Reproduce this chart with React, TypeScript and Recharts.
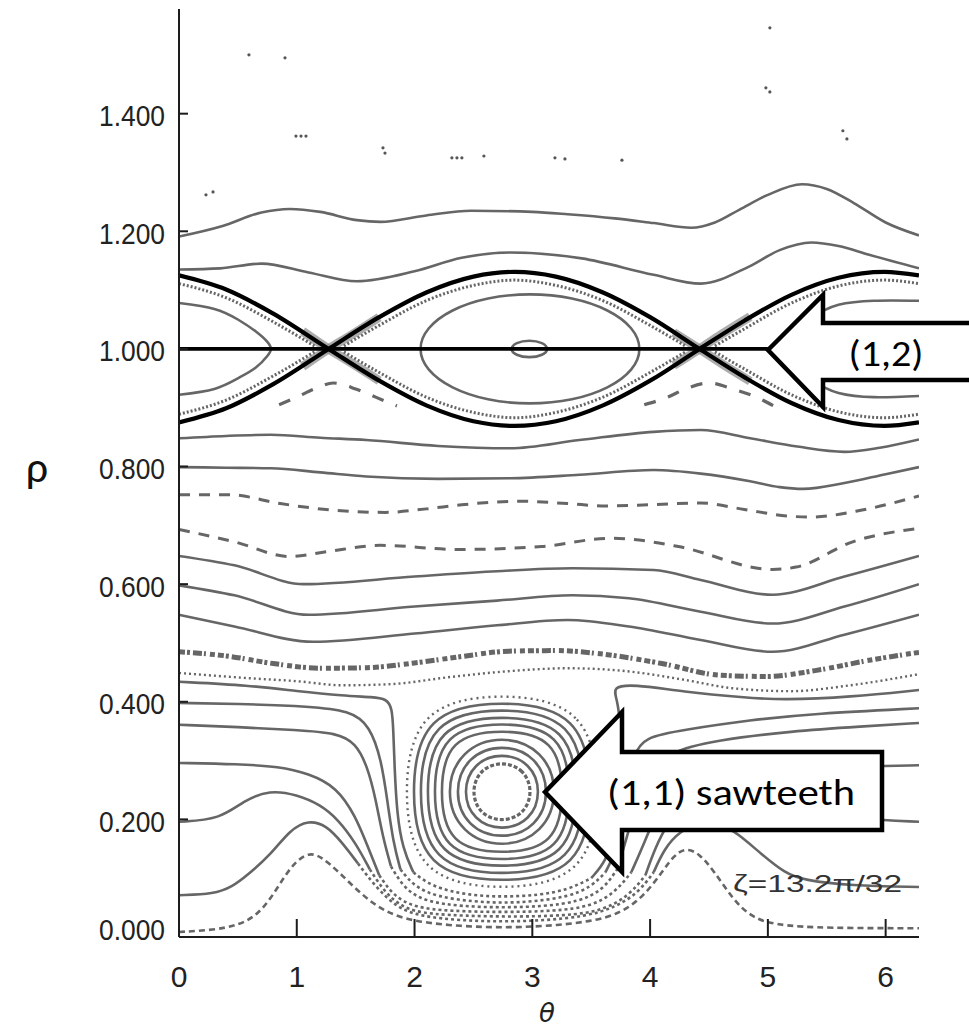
import React from 'react';
import { ComposedChart, Line, Scatter, XAxis, YAxis } from 'recharts';

type Pt = { x: number; y: number };
const toPts = (rows: number[][]): Pt[] => rows.map(([x, y]) => ({ x, y }));

const TWO_PI = 6.2832;
const RHO_MAX = 1.578;

const thetaTicks = [0, 1, 2, 3, 4, 5, 6];
const rhoTicks = [0, 0.2, 0.4, 0.6, 0.8, 1.0, 1.2, 1.4];
const rhoLabels = ['0.000', '0.200', '0.400', '0.600', '0.800', '1.000', '1.200', '1.400'];

// scattered puncture points in the outer region
const strayDots = toPts([
  [0.594, 1.5], [0.9, 1.495], [0.993, 1.362], [1.036, 1.362], [1.078, 1.362],
  [1.732, 1.342], [1.749, 1.333], [2.317, 1.325], [2.36, 1.325], [2.402, 1.325],
  [2.589, 1.328], [3.192, 1.325], [3.277, 1.323], [3.761, 1.321], [4.983, 1.444],
  [5.017, 1.437], [5.637, 1.371], [5.671, 1.357], [5.017, 1.546], [0.229, 1.262], [0.289, 1.267],
]);

// outer flux surfaces
const topA = toPts([
  [0, 1.191], [0.37, 1.209], [0.7, 1.232], [0.94, 1.238], [1.2, 1.233], [1.51, 1.219], [1.71, 1.216],
  [2.1, 1.227], [2.48, 1.235], [3.0, 1.233], [3.3, 1.229], [3.7, 1.222], [4.03, 1.214], [4.35, 1.206],
  [4.55, 1.215], [4.76, 1.237], [5.0, 1.262], [5.29, 1.28], [5.5, 1.272], [5.73, 1.248], [6.0, 1.215], [6.283, 1.193],
]);
const topB = toPts([
  [0, 1.135], [0.35, 1.137], [0.7, 1.145], [1.1, 1.13], [1.51, 1.115], [2.0, 1.132], [2.4, 1.155],
  [2.81, 1.164], [3.42, 1.154], [4.03, 1.126], [4.43, 1.111], [4.84, 1.14], [5.1, 1.168], [5.37, 1.181],
  [5.6, 1.175], [5.86, 1.16], [6.283, 1.137],
]);

// (1,2) separatrices
const sepA = toPts([
  [0, 1.125], [0.4, 1.101], [0.8, 1.06], [1.27, 1.0], [1.7, 0.946], [2.1, 0.904], [2.5, 0.877], [2.85, 0.869],
  [3.2, 0.877], [3.6, 0.904], [4.0, 0.946], [4.42, 1.0], [4.8, 1.048], [5.2, 1.092], [5.6, 1.121], [5.99, 1.131], [6.283, 1.125],
]);
const sepB = toPts([
  [0, 0.875], [0.4, 0.899], [0.8, 0.94], [1.27, 1.0], [1.7, 1.054], [2.1, 1.096], [2.5, 1.123], [2.85, 1.131],
  [3.2, 1.123], [3.6, 1.096], [4.0, 1.054], [4.42, 1.0], [4.8, 0.952], [5.2, 0.908], [5.6, 0.879], [5.99, 0.869], [6.283, 0.875],
]);
const rhoOne = toPts([[0, 1.0], [5.0, 1.0]]);

// (1,2) island contents
const leftIsland = toPts([
  [0, 1.078], [0.3, 1.068], [0.5, 1.05], [0.65, 1.03], [0.75, 1.012], [0.78, 1.0],
  [0.75, 0.988], [0.65, 0.968], [0.5, 0.95], [0.3, 0.932], [0, 0.922],
]);
const rightIsland = toPts([
  [6.283, 1.082], [5.9, 1.082], [5.6, 1.075], [5.4, 1.055], [5.25, 1.025], [5.19, 1.0],
  [5.25, 0.975], [5.4, 0.945], [5.6, 0.925], [5.9, 0.918], [6.283, 0.92],
]);
const midIsland = toPts([
  [3.933, 1.0], [3.861, 1.036], [3.654, 1.067], [3.345, 1.088], [2.98, 1.095], [2.615, 1.088], [2.306, 1.067], [2.099, 1.036],
  [2.027, 1.0], [2.099, 0.964], [2.306, 0.933], [2.615, 0.912], [2.98, 0.905], [3.345, 0.912], [3.654, 0.933], [3.861, 0.964],
]);
const midCore = toPts([
  [3.141, 1.0], [3.093, 1.011], [2.975, 1.0155], [2.857, 1.011], [2.809, 1.0], [2.857, 0.989], [2.975, 0.9845], [3.093, 0.989],
]);
const layerMidTop = toPts([[1.4, 1.005], [1.7, 1.04], [2.1, 1.082], [2.5, 1.108], [2.85, 1.117], [3.2, 1.108], [3.6, 1.082], [4.0, 1.04], [4.3, 1.005]]);
const layerMidBot = toPts([[1.4, 0.995], [1.7, 0.96], [2.1, 0.918], [2.5, 0.892], [2.85, 0.883], [3.2, 0.892], [3.6, 0.918], [4.0, 0.96], [4.3, 0.995]]);
const layerLeftTop = toPts([[0, 1.111], [0.4, 1.087], [0.8, 1.046], [1.15, 1.005]]);
const layerLeftBot = toPts([[0, 0.889], [0.4, 0.913], [0.8, 0.954], [1.15, 0.995]]);
const layerRightTop = toPts([[4.55, 1.005], [4.8, 1.034], [5.2, 1.078], [5.6, 1.107], [5.99, 1.117], [6.283, 1.111]]);
const layerRightBot = toPts([[4.55, 0.995], [4.8, 0.966], [5.2, 0.922], [5.6, 0.893], [5.99, 0.883], [6.283, 0.889]]);
const xBlobA = toPts([[1.05, 1.03], [1.27, 1.0], [1.45, 0.978], [1.7, 0.946]]);
const xBlobB = toPts([[1.05, 0.97], [1.27, 1.0], [1.45, 1.022], [1.7, 1.054]]);
const xBlobC = toPts([[4.2, 0.972], [4.42, 1.0], [4.6, 1.024], [4.85, 1.055]]);
const xBlobD = toPts([[4.2, 1.028], [4.42, 1.0], [4.6, 0.976], [4.85, 0.945]]);
const chainLeft = toPts([[0.85, 0.905], [1.0, 0.918], [1.15, 0.932], [1.31, 0.942], [1.5, 0.932], [1.67, 0.918], [1.85, 0.903]]);
const chainRight = toPts([[3.95, 0.905], [4.15, 0.918], [4.3, 0.932], [4.5, 0.942], [4.7, 0.932], [4.9, 0.918], [5.05, 0.903]]);

// middle surfaces
const surfD1 = toPts([
  [0, 0.848], [0.4, 0.852], [0.78, 0.854], [1.2, 0.849], [1.59, 0.845], [2.2, 0.835], [2.81, 0.831], [3.4, 0.845],
  [4.03, 0.859], [4.43, 0.862], [4.85, 0.848], [5.25, 0.834], [5.65, 0.825], [5.95, 0.832], [6.283, 0.846],
]);
const surfD2 = toPts([
  [0, 0.799], [0.4, 0.798], [0.78, 0.797], [1.2, 0.79], [1.59, 0.783], [2.2, 0.779], [2.81, 0.78], [3.4, 0.786],
  [4.03, 0.794], [4.43, 0.788], [4.85, 0.775], [5.1, 0.765], [5.3, 0.762], [5.65, 0.772], [6.0, 0.787], [6.283, 0.799],
]);
const surfE1 = toPts([
  [0, 0.752], [0.43, 0.752], [0.86, 0.737], [1.3, 0.726], [1.75, 0.722], [2.1, 0.728], [2.4, 0.735], [2.89, 0.741],
  [3.3, 0.737], [3.62, 0.733], [4.0, 0.735], [4.43, 0.738], [4.8, 0.727], [5.16, 0.716], [5.36, 0.714], [5.8, 0.726], [6.283, 0.75],
]);
const surfE2 = toPts([
  [0, 0.693], [0.47, 0.672], [0.94, 0.647], [1.25, 0.655], [1.71, 0.666], [2.37, 0.659], [3.08, 0.664], [3.66, 0.678],
  [3.85, 0.676], [4.24, 0.664], [5.04, 0.625], [5.24, 0.629], [5.72, 0.672], [6.283, 0.695],
]);
const surfF1 = toPts([
  [0, 0.648], [0.47, 0.632], [1.06, 0.6], [2.0, 0.613], [2.7, 0.622], [3.34, 0.627], [4.03, 0.624], [4.43, 0.607],
  [5.04, 0.582], [5.65, 0.613], [6.283, 0.648],
]);
const surfF2 = toPts([
  [0, 0.598], [0.47, 0.581], [1.1, 0.548], [2.0, 0.562], [2.7, 0.572], [3.34, 0.581], [3.82, 0.576], [4.43, 0.553],
  [5.04, 0.533], [5.65, 0.562], [6.283, 0.6],
]);
const surfF3 = toPts([
  [0, 0.548], [0.47, 0.528], [1.14, 0.502], [2.0, 0.516], [2.7, 0.53], [3.3, 0.539], [3.82, 0.528], [4.43, 0.505],
  [5.04, 0.485], [5.65, 0.514], [6.283, 0.548],
]);
const chaosBand = toPts([
  [0, 0.485], [0.4, 0.478], [0.8, 0.465], [1.2, 0.457], [1.6, 0.458], [2.0, 0.466], [2.4, 0.477], [2.8, 0.486],
  [3.2, 0.487], [3.6, 0.481], [4.1, 0.465], [4.6, 0.445], [5.0, 0.443], [5.4, 0.453], [5.9, 0.472], [6.283, 0.484],
]);
const chaosInner = toPts([
  [0, 0.449], [0.6, 0.44], [1.0, 0.435], [1.39, 0.428], [1.8, 0.43], [2.3, 0.442], [2.8, 0.452], [3.3, 0.457],
  [3.8, 0.452], [4.3, 0.437], [4.7, 0.423], [5.2, 0.418], [5.7, 0.428], [6.283, 0.447],
]);

// surfaces wrapping round the (1,1) island
const wrap0 = toPts([
  [0, 0.434], [0.6, 0.428], [1.0, 0.418], [1.4, 0.41], [1.65, 0.408], [1.76, 0.405], [1.81, 0.39], [1.82, 0.35],
  [1.83, 0.29], [1.85, 0.21], [1.9, 0.15], [1.99, 0.11], [2.15, 0.085], [2.45, 0.071], [2.75, 0.068], [3.05, 0.071],
  [3.3, 0.08], [3.5, 0.1], [3.63, 0.13], [3.68, 0.17], [3.72, 0.24], [3.75, 0.31], [3.75, 0.36], [3.72, 0.405],
  [3.68, 0.425], [3.85, 0.43], [4.28, 0.417], [4.8, 0.407], [5.13, 0.403], [5.7, 0.408], [6.283, 0.42],
]);
const wrap1 = toPts([
  [0, 0.398], [0.6, 0.396], [1.1, 0.392], [1.45, 0.385], [1.62, 0.36], [1.72, 0.3], [1.77, 0.23], [1.82, 0.16],
  [1.88, 0.115], [2.0, 0.085], [2.2, 0.068], [2.5, 0.06], [2.75, 0.058], [3.0, 0.06], [3.3, 0.068], [3.5, 0.085],
  [3.62, 0.11], [3.7, 0.14], [3.76, 0.19], [3.81, 0.26], [3.86, 0.31], [3.95, 0.34], [4.28, 0.352], [4.85, 0.369],
  [5.4, 0.38], [6.283, 0.389],
]);
const wrap2 = toPts([
  [0, 0.361], [0.5, 0.357], [1.0, 0.352], [1.34, 0.347], [1.5, 0.33], [1.6, 0.29], [1.67, 0.235], [1.73, 0.17],
  [1.8, 0.12], [1.92, 0.08], [2.1, 0.06], [2.4, 0.052], [2.75, 0.05], [3.1, 0.052], [3.4, 0.06], [3.6, 0.08],
  [3.72, 0.115], [3.79, 0.16], [3.87, 0.22], [3.96, 0.27], [4.14, 0.315], [4.57, 0.335], [5.2, 0.35], [5.8, 0.358], [6.283, 0.364],
]);
const wrap3 = toPts([
  [0, 0.296], [0.5, 0.294], [0.85, 0.29], [1.1, 0.278], [1.34, 0.255], [1.5, 0.205], [1.6, 0.155], [1.7, 0.105],
  [1.82, 0.07], [2.0, 0.05], [2.3, 0.044], [2.75, 0.042], [3.2, 0.044], [3.5, 0.052], [3.7, 0.075], [3.84, 0.11],
  [3.93, 0.15], [4.03, 0.2], [4.15, 0.245], [4.35, 0.27], [4.6, 0.278], [5.2, 0.287], [5.8, 0.29], [6.283, 0.292],
]);
const wrap4 = toPts([
  [0, 0.196], [0.35, 0.2], [0.55, 0.232], [0.77, 0.25], [1.0, 0.242], [1.2, 0.225], [1.35, 0.2], [1.5, 0.16],
  [1.62, 0.115], [1.75, 0.075], [1.9, 0.05], [2.1, 0.038], [2.75, 0.034], [3.3, 0.036], [3.6, 0.045], [3.82, 0.07],
  [3.96, 0.105], [4.04, 0.15], [4.15, 0.195], [4.3, 0.225], [4.5, 0.235], [4.8, 0.232], [5.3, 0.215], [5.8, 0.2], [6.283, 0.196],
]);
const wrap5 = toPts([
  [0, 0.071], [0.3, 0.073], [0.45, 0.085], [0.58, 0.105], [0.78, 0.14], [0.94, 0.182], [1.1, 0.199], [1.25, 0.19],
  [1.38, 0.162], [1.52, 0.125], [1.67, 0.085], [1.85, 0.05], [2.05, 0.035], [2.4, 0.028], [2.75, 0.026], [3.1, 0.028],
  [3.45, 0.035], [3.7, 0.05], [3.9, 0.075], [4.03, 0.11], [4.12, 0.15], [4.25, 0.18], [4.45, 0.198], [4.6, 0.192],
  [4.74, 0.177], [4.95, 0.14], [5.15, 0.108], [5.3, 0.097], [5.7, 0.087], [6.283, 0.085],
]);
const wrap6 = toPts([
  [0, 0.0085], [0.3, 0.012], [0.5, 0.02], [0.65, 0.035], [0.78, 0.065], [0.9, 0.105], [1.0, 0.13], [1.1, 0.143],
  [1.2, 0.138], [1.35, 0.112], [1.55, 0.072], [1.75, 0.042], [2.0, 0.026], [2.4, 0.018], [2.75, 0.016], [3.1, 0.018],
  [3.5, 0.026], [3.75, 0.04], [3.95, 0.07], [4.1, 0.11], [4.2, 0.138], [4.3, 0.152], [4.42, 0.142], [4.55, 0.11],
  [4.7, 0.065], [4.85, 0.035], [5.05, 0.02], [5.5, 0.015], [6.283, 0.015],
]);

// (1,1) island rings
const ring1 = toPts([[3.004, 0.247], [2.932, 0.285], [2.742, 0.299], [2.552, 0.285], [2.481, 0.247], [2.552, 0.209], [2.742, 0.195], [2.932, 0.209]]);
const ring2 = toPts([[3.078, 0.247], [2.986, 0.296], [2.742, 0.314], [2.498, 0.296], [2.406, 0.247], [2.498, 0.198], [2.742, 0.18], [2.986, 0.198]]);
const ring3 = toPts([[3.153, 0.247], [3.041, 0.307], [2.742, 0.329], [2.443, 0.307], [2.331, 0.247], [2.443, 0.187], [2.742, 0.165], [3.041, 0.187]]);
const ring4 = toPts([[3.228, 0.247], [3.095, 0.318], [2.742, 0.344], [2.389, 0.318], [2.256, 0.247], [2.389, 0.176], [2.742, 0.15], [3.095, 0.176]]);
const ring5 = toPts([[3.277, 0.247], [3.2, 0.339], [2.742, 0.354], [2.284, 0.339], [2.207, 0.247], [2.284, 0.155], [2.742, 0.14], [3.2, 0.155]]);
const ring6 = toPts([[3.339, 0.247], [3.254, 0.35], [2.742, 0.367], [2.23, 0.35], [2.145, 0.247], [2.23, 0.144], [2.742, 0.127], [3.254, 0.144]]);
const ring7 = toPts([[3.402, 0.247], [3.307, 0.36], [2.742, 0.379], [2.177, 0.36], [2.082, 0.247], [2.177, 0.134], [2.742, 0.115], [3.307, 0.134]]);
const ring8 = toPts([[3.464, 0.247], [3.361, 0.371], [2.742, 0.392], [2.123, 0.371], [2.02, 0.247], [2.123, 0.123], [2.742, 0.102], [3.361, 0.123]]);
const ring9 = toPts([[3.526, 0.247], [3.414, 0.382], [2.742, 0.404], [2.07, 0.382], [1.958, 0.247], [2.07, 0.112], [2.742, 0.09], [3.414, 0.112]]);
const ring10 = toPts([[3.589, 0.247], [3.468, 0.392], [2.742, 0.417], [2.016, 0.392], [1.895, 0.247], [2.016, 0.102], [2.742, 0.077], [3.468, 0.102]]);

const GRAY = '#666666';
const AXIS = '#1c1c1c';
const NUM_FONT = "'Liberation Sans', Arial, Helvetica, sans-serif";
const NOTE_FONT = "Carlito, Lato, 'Open Sans', sans-serif";
const DOTS = '3 3';

type Spec = { id: string; data: Pt[]; type: string; w?: number; dash?: string; color?: string; op?: number };

// wrapping surfaces: solid where they run along theta, dotted under the island
const wrapPieces = (id: string, d: Pt[], a: number, b: number): Spec[] => [
  { id: `${id}a`, data: d.slice(0, a + 1), type: 'basis' },
  { id: `${id}b`, data: d.slice(a, b + 1), type: 'basis', dash: DOTS },
  { id: `${id}c`, data: d.slice(b), type: 'basis' },
];

const curves: Spec[] = [
  { id: 'blobA', data: xBlobA, type: 'monotone', w: 9, color: '#8a8a8a', op: 0.7 },
  { id: 'blobB', data: xBlobB, type: 'monotone', w: 9, color: '#8a8a8a', op: 0.7 },
  { id: 'blobC', data: xBlobC, type: 'monotone', w: 9, color: '#8a8a8a', op: 0.7 },
  { id: 'blobD', data: xBlobD, type: 'monotone', w: 9, color: '#8a8a8a', op: 0.7 },
  { id: 'topA', data: topA, type: 'monotone' },
  { id: 'topB', data: topB, type: 'monotone' },
  { id: 'leftIsland', data: leftIsland, type: 'natural' },
  { id: 'rightIsland', data: rightIsland, type: 'natural' },
  { id: 'midIsland', data: midIsland, type: 'basisClosed' },
  { id: 'midCore', data: midCore, type: 'basisClosed' },
  { id: 'lmt', data: layerMidTop, type: 'monotone', w: 3, dash: '2 2' },
  { id: 'lmb', data: layerMidBot, type: 'monotone', w: 3, dash: '2 2' },
  { id: 'llt', data: layerLeftTop, type: 'monotone', w: 3, dash: '2 2' },
  { id: 'llb', data: layerLeftBot, type: 'monotone', w: 3, dash: '2 2' },
  { id: 'lrt', data: layerRightTop, type: 'monotone', w: 3, dash: '2 2' },
  { id: 'lrb', data: layerRightBot, type: 'monotone', w: 3, dash: '2 2' },
  { id: 'chainL', data: chainLeft, type: 'monotone', w: 3.2, dash: '12 13' },
  { id: 'chainR', data: chainRight, type: 'monotone', w: 3.2, dash: '12 13' },
  { id: 'd1', data: surfD1, type: 'monotone' },
  { id: 'd2', data: surfD2, type: 'monotone' },
  { id: 'e1', data: surfE1, type: 'monotone', w: 3, dash: '11 9' },
  { id: 'e2', data: surfE2, type: 'monotone', w: 3, dash: '11 9' },
  { id: 'f1', data: surfF1, type: 'monotone' },
  { id: 'f2', data: surfF2, type: 'monotone' },
  { id: 'f3', data: surfF3, type: 'monotone' },
  { id: 'band', data: chaosBand, type: 'monotone', w: 5, dash: '6 2 3 3 9 2 2 4 5 3' },
  { id: 'bandIn', data: chaosInner, type: 'monotone', w: 2.4, dash: '2 3' },
  ...wrapPieces('w0', wrap0, 11, 17),
  ...wrapPieces('w1', wrap1, 8, 16),
  ...wrapPieces('w2', wrap2, 8, 16),
  ...wrapPieces('w3', wrap3, 7, 15),
  ...wrapPieces('w4', wrap4, 8, 16),
  ...wrapPieces('w5', wrap5, 9, 19),
  { id: 'w6', data: wrap6, type: 'basis', w: 2.6, dash: '6 4' },
  { id: 'r1', data: ring1, type: 'basisClosed', w: 3.2, dash: '4 2' },
  { id: 'r2', data: ring2, type: 'basisClosed' },
  { id: 'r3', data: ring3, type: 'basisClosed' },
  { id: 'r4', data: ring4, type: 'basisClosed' },
  { id: 'r5', data: ring5, type: 'basisClosed' },
  { id: 'r6', data: ring6, type: 'basisClosed' },
  { id: 'r7', data: ring7, type: 'basisClosed' },
  { id: 'r8', data: ring8, type: 'basisClosed' },
  { id: 'r9', data: ring9, type: 'basisClosed' },
  { id: 'r10', data: ring10, type: 'basisClosed', w: 2.4, dash: '2 4' },
  { id: 'sepA', data: sepA, type: 'monotone', w: 4.2, color: '#000' },
  { id: 'sepB', data: sepB, type: 'monotone', w: 4.2, color: '#000' },
  { id: 'rhoOne', data: rhoOne, type: 'linear', w: 3.6, color: '#000' },
];

const BottomTick = (props: any) => {
  const { x, y, payload } = props;
  return (
    <g>
      <line x1={x} y1={y} x2={x} y2={y - 18} stroke={AXIS} strokeWidth={2} />
      <text x={x} y={y + 50} textAnchor="middle" fontSize={30} fill="#222" fontFamily={NUM_FONT}>
        {payload.value}
      </text>
    </g>
  );
};

const TopTick = (props: any) => {
  const { x, y } = props;
  return <line x1={x} y1={y} x2={x} y2={y + 19} stroke={AXIS} strokeWidth={2} />;
};

const LeftTick = (props: any) => {
  const { x, y, payload, index } = props;
  const cy = Math.min(y + 2, 929);
  return (
    <g>
      <line x1={x} y1={y} x2={x + 9} y2={y} stroke={AXIS} strokeWidth={2} />
      <text x={x - 14} y={cy + 10.5} textAnchor="end" fontSize={29} fill="#222" fontFamily={NUM_FONT}
        textLength={66} lengthAdjust="spacingAndGlyphs">
        {rhoLabels[index] ?? payload.value.toFixed(3)}
      </text>
    </g>
  );
};

const RightTick = (props: any) => {
  const { x, y } = props;
  return <line x1={x} y1={y} x2={x - 9} y2={y} stroke={AXIS} strokeWidth={2} />;
};

const StrayDot = (props: any) => <circle cx={props.cx} cy={props.cy} r={1.6} fill="#555" />;

export default function App() {
  return (
    <div style={{ position: 'absolute', left: 0, top: 0, width: 969, height: 1032, background: '#fff' }}>
      <ComposedChart width={969} height={1032} margin={{ top: 9, right: 50, bottom: 35, left: 79 }}>
        <XAxis type="number" dataKey="x" domain={[0, TWO_PI]} ticks={thetaTicks} allowDataOverflow interval={0}
          height={60} tickSize={0} tickMargin={0} tickLine={false} tick={BottomTick}
          axisLine={{ stroke: AXIS, strokeWidth: 2 }} />
        <XAxis xAxisId="top" orientation="top" type="number" dataKey="x" domain={[0, TWO_PI]} ticks={thetaTicks}
          allowDataOverflow interval={0} height={0} tickSize={0} tickMargin={0} tickLine={false} tick={TopTick}
          axisLine={{ stroke: AXIS, strokeWidth: 2 }} />
        <YAxis type="number" dataKey="y" domain={[0, RHO_MAX]} ticks={rhoTicks} allowDataOverflow interval={0}
          width={100} tickSize={0} tickMargin={0} tickLine={false} tick={LeftTick}
          axisLine={{ stroke: AXIS, strokeWidth: 2 }} />
        <YAxis yAxisId="right" orientation="right" type="number" dataKey="y" domain={[0, RHO_MAX]} ticks={rhoTicks}
          allowDataOverflow interval={0} width={0} tickSize={0} tickMargin={0} tickLine={false} tick={RightTick}
          axisLine={{ stroke: AXIS, strokeWidth: 2 }} />
        {curves.map((c) => (
          <Line key={c.id} data={c.data} dataKey="y" type={c.type as any} stroke={c.color ?? GRAY}
            strokeWidth={c.w ?? 2.6} strokeDasharray={c.dash} strokeOpacity={c.op ?? 1}
            dot={false} activeDot={false} isAnimationActive={false} legendType="none" />
        ))}
        <Scatter data={strayDots} dataKey="y" shape={StrayDot} isAnimationActive={false} />
      </ComposedChart>
      <svg width={969} height={1032} style={{ position: 'absolute', left: 0, top: 0, pointerEvents: 'none' }}>
        <text x={37} y={482} textAnchor="middle" fontSize={44} fill="#111" fontFamily={NOTE_FONT}>ρ</text>
        <text x={547} y={1022} textAnchor="middle" fontSize={26} fontStyle="italic" fill="#222"
          fontFamily="'DejaVu Sans', sans-serif">θ</text>
        <text x={733} y={892} fontSize={24} fill="#333" fontFamily={NUM_FONT} textLength={169}
          lengthAdjust="spacingAndGlyphs">ζ=13.2π/32</text>
        <polygon points="768,350 823,295 823,323 975,323 975,380 823,380 823,407"
          fill="#fff" stroke="#000" strokeWidth={4.5} strokeLinejoin="miter" />
        <text x={886} y={366} textAnchor="middle" fontSize={36} fill="#000" fontFamily={NOTE_FONT}
          textLength={75} lengthAdjust="spacingAndGlyphs">(1,2)</text>
        <polygon points="545,792 622,712 622,752 882,752 882,830 622,830 622,872"
          fill="#fff" stroke="#000" strokeWidth={4.5} strokeLinejoin="miter" />
        <text x={607} y={805} fontSize={36} fill="#000" fontFamily={NOTE_FONT}
          textLength={248} lengthAdjust="spacingAndGlyphs">(1,1) sawteeth</text>
      </svg>
    </div>
  );
}
